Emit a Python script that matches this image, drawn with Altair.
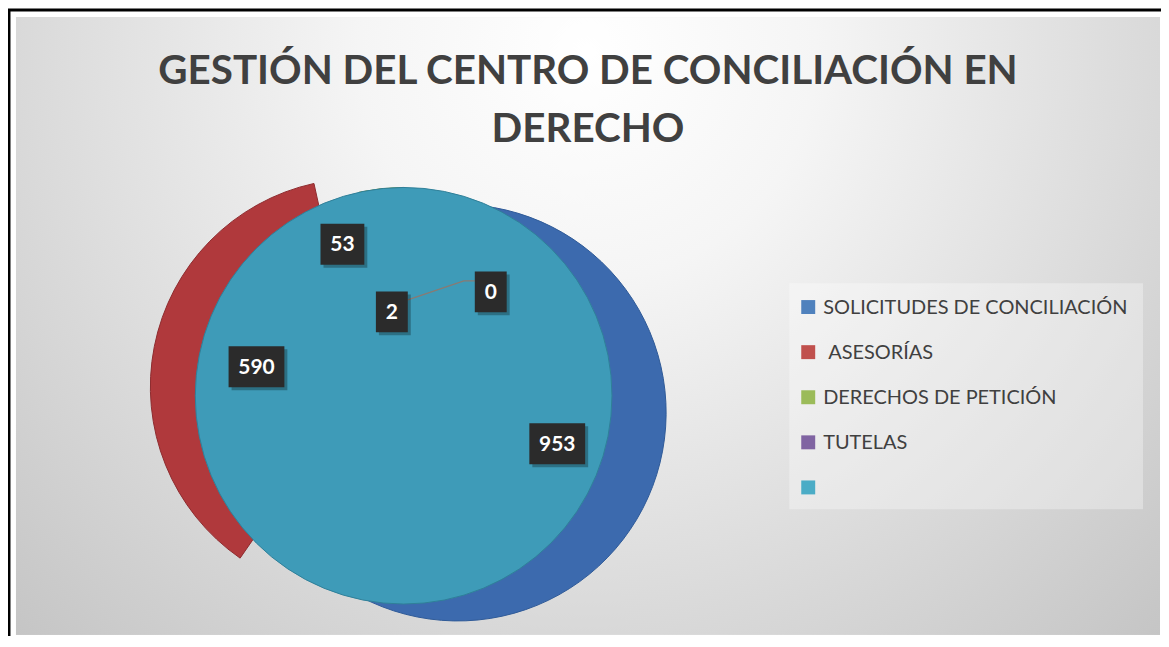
import math
import altair as alt
import pandas as pd

# ---------------- data ----------------
TITLE_LINES = ["GESTIÓN DEL CENTRO DE CONCILIACIÓN EN", "DERECHO"]
categories = ["SOLICITUDES DE CONCILIACIÓN", " ASESORÍAS", "DERECHOS DE PETICIÓN", "TUTELAS", ""]
serie_1 = [953, 590, 53, 2, 0]
serie_2 = [0, 0, 0, 0, 1598]

# ---------------- style ----------------
pie_colors = ["#3C6AAE", "#B0393C", "#86A84A", "#6E5590", "#3E9BB8"]
pie_strokes = ["#2F5A98", "#8E2C2F", "#6C8A38", "#5A4578", "#2F8099"]
legend_colors = ["#4F81BD", "#C0504D", "#9BBB59", "#8064A2", "#4BACC6"]
TEXT_GRAY = "#404040"

OFF = 8
W, H = 1157, 629
CX, CY = 405 - OFF, 396 - OFF
R = 209
EXPLODE = [57, 46, 0, 0, 0]
# manual label placement (angle in degrees, distance from pie centre) for small slices
LABEL_OVERRIDE = {2: (338, 164), 3: (352, 85), 4: (40, 136)}


def pie_frame(vals, explode):
    total = sum(vals)
    rows, acc = [], 0
    for i, (cat, v, e) in enumerate(zip(categories, vals, explode)):
        t0, t1 = acc, acc + v
        acc = t1
        mid = math.radians((t0 + t1) / 2 / total * 360)
        rows.append(dict(idx=i, cat=cat, value=v, t0=t0, t1=t1, mid=mid, e=e,
                         cx=CX + e * math.sin(mid), cy=CY - e * math.cos(mid)))
    return pd.DataFrame(rows), total


df1, total1 = pie_frame(serie_1, EXPLODE)
df2, total2 = pie_frame(serie_2, [0] * 5)
df2 = df2[df2["value"] > 0]

theta_scale1 = alt.Scale(domain=[0, total1], range=[0, 2 * math.pi])
theta_scale2 = alt.Scale(domain=[0, total2], range=[0, 2 * math.pi])

# labels
lab_rows = []
for _, r in df1.iterrows():
    i = int(r["idx"])
    if i in LABEL_OVERRIDE:
        ang, dist = LABEL_OVERRIDE[i]
        ang = math.radians(ang)
    else:
        ang, dist = r["mid"], r["e"] + R * 0.5
    lx = CX + dist * math.sin(ang)
    ly = CY - dist * math.cos(ang)
    txt = str(int(r["value"]))
    w = 12 * len(txt) + 20
    lab_rows.append(dict(idx=i, text=txt, lx=lx, ly=ly,
                         x0=lx - w / 2, x1=lx + w / 2, y0=ly - 20.5, y1=ly + 20.5,
                         sx0=lx - w / 2 + 3, sx1=lx + w / 2 + 3, sy0=ly - 17.5, sy1=ly + 23.5))
labels = pd.DataFrame(lab_rows)

# leader line between the "0" label and the small slices
l0 = labels[labels["idx"] == 4].iloc[0]
l2 = labels[labels["idx"] == 3].iloc[0]
leader = pd.DataFrame([
    dict(o=0, x=l0["x0"], y=l0["ly"] - 11),
    dict(o=1, x=l0["x0"] - 11, y=l0["ly"] - 11),
    dict(o=2, x=l2["x1"], y=l2["ly"] - 12),
])

XN = lambda f: alt.X(f, scale=None, axis=None)
YN = lambda f: alt.Y(f, scale=None, axis=None)

# ---------------- background & frame ----------------
bg = alt.Chart(pd.DataFrame({"a": [0]})).mark_rect(
    fill=alt.RadialGradient(
        gradient="radial", x1=0.5, y1=0.26, r1=0.0, x2=0.5, y2=0.26, r2=0.8,
        stops=[alt.GradientStop(offset=0, color="#ffffff"),
               alt.GradientStop(offset=0.25, color="#f5f5f5"),
               alt.GradientStop(offset=1, color="#bdbdbd")])
).encode(x=alt.value(8), x2=alt.value(1156), y=alt.value(8), y2=alt.value(628))

border_l = alt.Chart(pd.DataFrame({"a": [0]})).mark_rule(color="black", strokeWidth=3).encode(
    x=alt.value(1), y=alt.value(0), y2=alt.value(H))
border_t = alt.Chart(pd.DataFrame({"a": [0]})).mark_rule(color="black", strokeWidth=3).encode(
    y=alt.value(1), x=alt.value(0), x2=alt.value(W))

# ---------------- title ----------------
title_df = pd.DataFrame({"t": TITLE_LINES, "line": list(range(len(TITLE_LINES)))})
title = alt.Chart(title_df).mark_text(
    font="Lato", fontWeight="bold", fontSize=40.5, color=TEXT_GRAY, align="center", baseline="alphabetic"
).encode(
    x=alt.value(582),
    y=alt.Y("line:O", scale=alt.Scale(type="point", domain=[0, 1], range=[75, 133], padding=0), axis=None),
    text="t:N")

# ---------------- pie ----------------
slices = alt.Chart(df1).mark_arc(outerRadius=R, strokeWidth=1).encode(
    x=XN("cx:Q"), y=YN("cy:Q"),
    theta=alt.Theta("t0:Q", scale=theta_scale1), theta2="t1:Q",
    fill=alt.Fill("cat:N", scale=alt.Scale(domain=categories, range=pie_colors), legend=None),
    stroke=alt.Stroke("cat:N", scale=alt.Scale(domain=categories, range=pie_strokes), legend=None),
    order=alt.Order("idx:Q"))

disc = alt.Chart(df2).mark_arc(outerRadius=R, strokeWidth=1).encode(
    x=XN("cx:Q"), y=YN("cy:Q"),
    theta=alt.Theta("t0:Q", scale=theta_scale2), theta2="t1:Q",
    fill=alt.Fill("cat:N", scale=alt.Scale(domain=categories, range=pie_colors), legend=None),
    stroke=alt.Stroke("cat:N", scale=alt.Scale(domain=categories, range=pie_strokes), legend=None))

leader_line = alt.Chart(leader).mark_line(color="#8a7a72", strokeWidth=1.3).encode(
    x=XN("x:Q"), y=YN("y:Q"), order="o:Q")

lab_shadow = alt.Chart(labels).mark_rect(color="black", opacity=0.28).encode(
    x=XN("sx0:Q"), x2="sx1:Q", y=YN("sy0:Q"), y2="sy1:Q")
lab_box = alt.Chart(labels).mark_rect(color="#2b2b2b").encode(
    x=XN("x0:Q"), x2="x1:Q", y=YN("y0:Q"), y2="y1:Q")
lab_text = alt.Chart(labels).mark_text(
    font="Lato", fontWeight="bold", fontSize=21, color="white", align="center", baseline="middle", dy=1
).encode(x=XN("lx:Q"), y=YN("ly:Q"), text="text:N")

# ---------------- legend ----------------
leg_df = pd.DataFrame({"cat": categories})
leg_df["label"] = leg_df["cat"].str.lstrip()
leg_df["tx"] = 818 + 5 * (leg_df["cat"].str.len() - leg_df["label"].str.len())
leg_box = alt.Chart(pd.DataFrame({"a": [0]})).mark_rect(color="white", opacity=0.32).encode(
    x=alt.value(784), x2=alt.value(1139), y=alt.value(275), y2=alt.value(502))
leg_y = alt.Y("cat:N", sort=categories,
              scale=alt.Scale(type="point", domain=categories, range=[299, 480], padding=0), axis=None)
leg_sq = alt.Chart(leg_df).mark_square(size=196, opacity=1, strokeWidth=0).encode(
    x=alt.value(803), y=leg_y,
    color=alt.Color("cat:N", scale=alt.Scale(domain=categories, range=legend_colors), legend=None))
leg_txt = alt.Chart(leg_df).mark_text(
    font="Lato", fontSize=20, color=TEXT_GRAY, align="left", baseline="middle", dy=1
).encode(x=XN("tx:Q"), y=leg_y, text="label:N")

chart = alt.layer(
    bg, border_l, border_t, title,
    slices, disc, leader_line, lab_shadow, lab_box, lab_text,
    leg_box, leg_sq, leg_txt
).resolve_scale(y="independent", x="independent", fill="independent", stroke="independent",
                theta="independent").properties(
    width=W, height=H, padding=0, autosize=alt.AutoSizeParams(type="none")
).configure_view(stroke=None)

chart.save("out.html", embed_options={"renderer": "svg", "actions": False})
